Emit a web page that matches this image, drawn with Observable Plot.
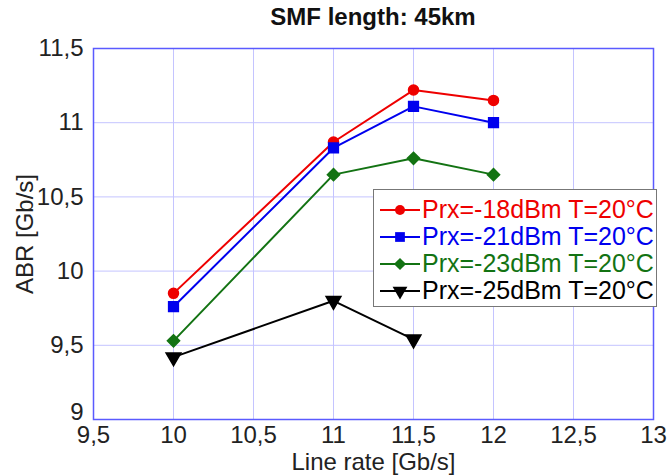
<!DOCTYPE html>
<html>
<head>
<meta charset="utf-8">
<script src="https://cdn.jsdelivr.net/npm/d3@7"></script>
<script src="https://cdn.jsdelivr.net/npm/@observablehq/plot@0.6"></script>
<style>
  html, body { margin: 0; padding: 0; background: #fff; }
  #wrap { position: relative; width: 668px; height: 476px; font-family: "Liberation Sans", Arial, sans-serif; }
  #title { position: absolute; left: 93px; width: 560px; top: 3px; text-align: center; font-weight: bold; font-size: 24px; color: #111; }
  #legend { position: absolute; left: 373px; top: 189px; width: 284px; height: 118px; border: 1px solid #777; background: #fff; box-sizing: border-box; padding-top: 6px; }
  .row { display: flex; align-items: center; height: 27px; font-size: 25px; white-space: nowrap; }
  .row svg { margin-left: 5px; margin-right: 1px; }
</style>
</head>
<body>
<div id="wrap">
  <div id="chart"></div>
  <div id="title">SMF length: 45km</div>
  <div id="legend"></div>
</div>
<script>
const lineRates = [10, 11, 11.5, 12];
const lineRates25 = [10, 11, 11.5];
const prx18 = [9.85, 10.87, 11.22, 11.15];
const prx21 = [9.76, 10.83, 11.11, 11.00];
const prx23 = [9.53, 10.65, 10.76, 10.65];
const prx25 = [9.42, 9.80, 9.54];
const xTicks = [9.5, 10, 10.5, 11, 11.5, 12, 12.5, 13];
const yTicks = [9, 9.5, 10, 10.5, 11, 11.5];
const seriesNames = ["Prx=-18dBm T=20°C", "Prx=-21dBm T=20°C", "Prx=-23dBm T=20°C", "Prx=-25dBm T=20°C"];
const seriesColors = ["#ee0000", "#0000ee", "#137313", "#000000"];
const seriesSymbols = ["circle", "square", "diamond2", "triangle"];
const seriesRotate = [0, 0, 0, 180];
const seriesR = [5, 5.5, 5.5, 5.5];

const seriesX = [lineRates, lineRates, lineRates, lineRates25];
const seriesY = [prx18, prx21, prx23, prx25];
const series = seriesNames.map((name, i) => ({
  name, color: seriesColors[i], symbol: seriesSymbols[i], rotate: seriesRotate[i], r: seriesR[i],
  data: seriesX[i].map((x, j) => ({x, y: seriesY[i][j]}))
}));

const fmt = d => String(d).replace(".", ",");

const marks = [
  Plot.gridX(xTicks, {stroke: "#c4c4ff", strokeOpacity: 1, strokeWidth: 1}),
  Plot.gridY(yTicks, {stroke: "#c4c4ff", strokeOpacity: 1, strokeWidth: 1}),
  Plot.axisX(xTicks, {tickSize: 0, tickPadding: 6, tickFormat: fmt, fontSize: 24, fill: "#222",
    label: "Line rate [Gb/s]", labelArrow: "none", labelAnchor: "center", labelOffset: 50}),
  Plot.axisY(yTicks.slice(1), {tickSize: 0, tickPadding: 10, tickFormat: fmt, fontSize: 24, fill: "#222",
    label: "ABR [Gb/s]", labelArrow: "none", labelAnchor: "center", labelOffset: 78}),
  Plot.axisY(yTicks.slice(0, 1), {tickSize: 0, tickPadding: 10, tickFormat: fmt, fontSize: 24, fill: "#222", dy: -7, label: null}),
  Plot.frame({stroke: "#5a5aff", strokeWidth: 1.5})
];
for (const s of series) {
  marks.push(Plot.line(s.data, {x: "x", y: "y", stroke: s.color, strokeWidth: 2}));
  marks.push(Plot.dot(s.data, {x: "x", y: "y", fill: s.color, stroke: s.color, symbol: () => s.symbol, r: s.r, rotate: s.rotate}));
}

const chart = Plot.plot({
  width: 668, height: 476,
  marginLeft: 93, marginRight: 15, marginTop: 48, marginBottom: 57,
  style: {fontFamily: "Liberation Sans, Arial, sans-serif", fontSize: "24px", background: "#fff", color: "#222"},
  x: {domain: [9.5, 13]},
  y: {domain: [9, 11.5]},
  symbol: {type: "identity"},
  marks
});
document.getElementById("chart").appendChild(chart);

// legend
const legend = d3.select("#legend");
const symMap = {circle: d3.symbolCircle, square: d3.symbolSquare, diamond2: d3.symbolDiamond2, triangle: d3.symbolTriangle};
series.forEach(s => {
  const row = legend.append("div").attr("class", "row").style("color", s.color);
  const svg = row.append("svg").attr("width", 42).attr("height", 20);
  svg.append("line").attr("x1", 1).attr("x2", 41).attr("y1", 10).attr("y2", 10).attr("stroke", s.color).attr("stroke-width", 2);
  svg.append("path").attr("d", d3.symbol(symMap[s.symbol], Math.PI * s.r * s.r)())
    .attr("transform", `translate(21,10) rotate(${s.rotate})`).attr("fill", s.color);
  row.append("span").text(s.name);
});
</script>
</body>
</html>
